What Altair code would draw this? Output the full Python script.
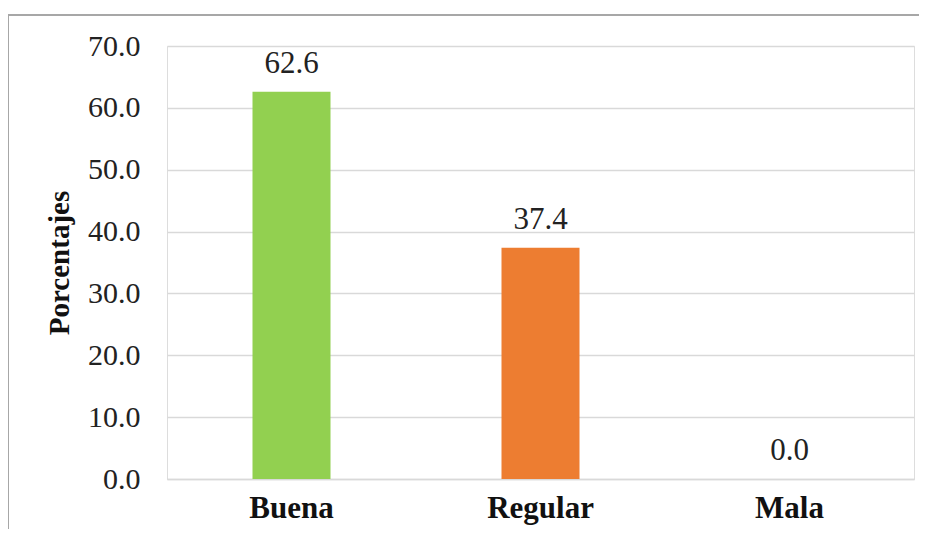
import altair as alt
import pandas as pd

categories = ["Buena", "Regular", "Mala"]
values = [62.6, 37.4, 0.0]
colors = ["#92D050", "#ED7D31", "#A5A5A5"]
y_ticks = [0, 10, 20, 30, 40, 50, 60, 70]

df = pd.DataFrame({"cat": categories, "val": values, "col": colors})
FONT = "Times New Roman, Liberation Serif, DejaVu Serif, serif"

x = alt.X("cat:N", sort=categories, title=None,
          scale=alt.Scale(paddingInner=0, paddingOuter=0),
          axis=alt.Axis(labelAngle=0, labelFont=FONT, labelFontSize=31,
                        labelFontWeight="bold", labelColor="#111111",
                        labelPadding=14, ticks=False, domain=True,
                        domainColor="#D9D9D9", domainWidth=1.5))
y = alt.Y("val:Q", title="Porcentajes",
          scale=alt.Scale(domain=[0, 70], nice=False),
          axis=alt.Axis(values=y_ticks, format=".1f", labelFont=FONT,
                        labelFontSize=30, labelColor="#222222", labelPadding=27,
                        ticks=False, domain=False, gridColor="#D9D9D9",
                        gridWidth=1.5, titleFont=FONT, titleFontSize=29,
                        titleFontWeight="bold", titleColor="#111111",
                        titlePadding=13))

bars = alt.Chart(df).mark_bar(size=78).encode(
    x=x, y=y, color=alt.Color("col:N", scale=None))

labels = alt.Chart(df).mark_text(font=FONT, fontSize=31, color="#222222",
                                 baseline="alphabetic", dy=-19).encode(
    x=alt.X("cat:N", sort=categories), y="val:Q",
    text=alt.Text("val:Q", format=".1f"))

frame_left = alt.Chart(df).mark_rule(color="#A6A6A6", strokeWidth=1.5, clip=False).encode(
    x=alt.value(-159), y=alt.value(-31), y2=alt.value(500))
frame_top = alt.Chart(df).mark_rule(color="#A6A6A6", strokeWidth=1.5, clip=False).encode(
    x=alt.value(-159), x2=alt.value(800), y=alt.value(-31))

chart = alt.layer(frame_left, frame_top, bars, labels).properties(
    width=747, height=433,
    padding={"left": 159, "top": 38, "right": 5, "bottom": 50},
    autosize=alt.AutoSizeParams(type="none"),
).configure_view(stroke=None).configure(background="white")

chart.save("out.html", embed_options={"renderer": "svg", "actions": False})
